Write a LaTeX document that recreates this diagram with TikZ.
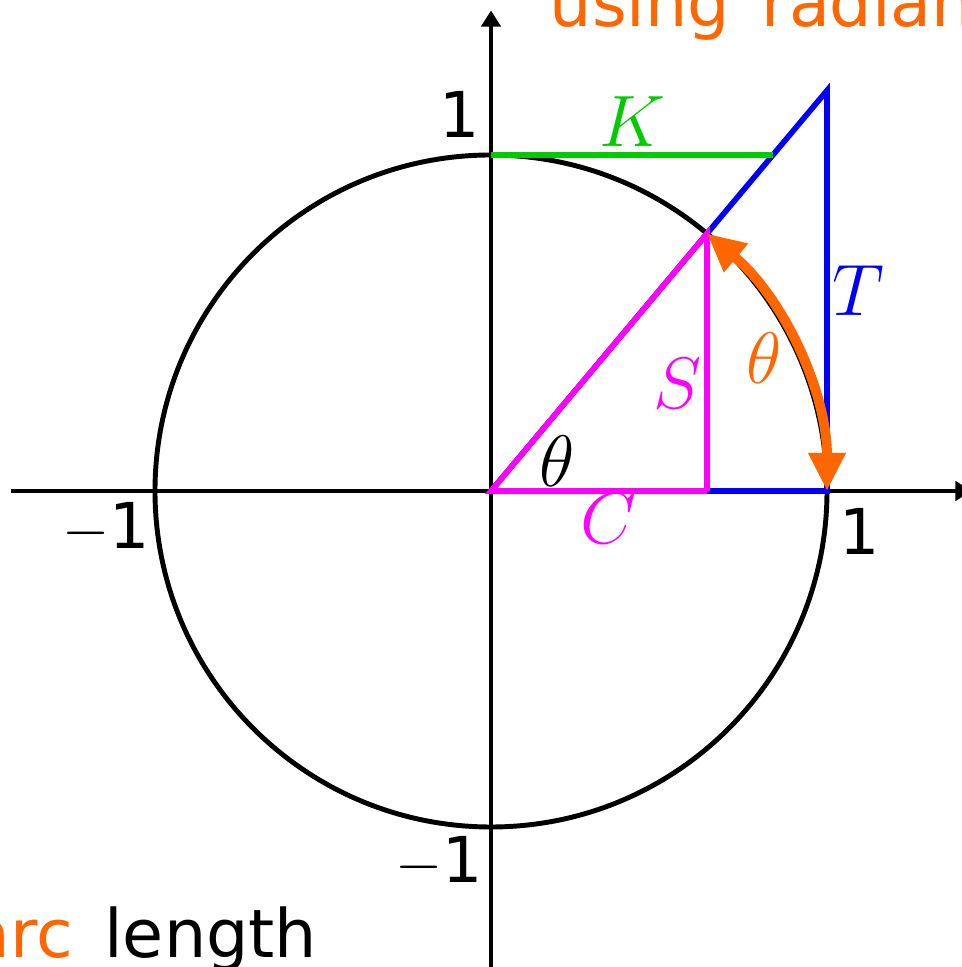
\documentclass[tikz,border=0pt]{standalone}
\usepackage{fontspec}
\newfontfamily\vera{DejaVu Sans}
\usetikzlibrary{arrows.meta}
\definecolor{arcorange}{RGB}{255,102,0}
\definecolor{cotgreen}{RGB}{0,204,0}
\definecolor{sinmagenta}{RGB}{255,0,255}
\newcommand{\wsp}{\hspace{0.47em}}

\begin{document}
\begin{tikzpicture}[x=3.36cm,y=3.36cm,
		axis/.style={
			draw,
			line width=1.4pt,
			-{Triangle[length=1.6mm,width=1.9mm]}
		},
		circ/.style={draw, line width=1.4pt},
		seg/.style={draw, line width=1.6pt},
		arcarrow/.style={
			draw=arcorange,
			line width=2.8pt,
			{Triangle[length=3.8mm,width=3.5mm]}-{Triangle[length=3.8mm,width=3.5mm]}
		},
		lbl/.style={inner sep=0pt, font=\fontsize{20}{24}\selectfont},
		num/.style={inner sep=0pt, font=\vera\fontsize{18}{22}\selectfont},
		caption/.style={inner sep=0pt, font=\vera\fontsize{19}{23}\selectfont}
		]
		
		\useasboundingbox (-1.4613,-1.4167) rectangle (1.3988,1.4613);
		
		% Points of the figure
		\coordinate (O) at (0,0);
		\coordinate (P) at (50:1);
		\coordinate (Cx) at ({cos(50)},0);
		\coordinate (A) at (1,0);
		\coordinate (Tq) at (1,{tan(50)});
		\coordinate (B) at (0,1);
		\coordinate (Kq) at ({cot(50)},1);
		\coordinate (Xl) at (-1.43,0);
		\coordinate (Xr) at (1.43,0);
		\coordinate (Yb) at (0,-1.43);
		\coordinate (Yt) at (0,1.43);
		
		% Axes and unit circle
		\draw[axis] (Xl) -- (Xr);
		\draw[axis] (Yb) -- (Yt);
		\draw[circ] (O) circle[radius=1];
		
		% Tangent (blue)
		\draw[seg, blue] (O) -- (Tq) -- (A) -- (Cx);
		
		% Cotangent (green)
		\draw[seg, cotgreen] (B) -- (Kq);
		
		% Sine and cosine (magenta)
		\draw[seg, sinmagenta] (Cx) -- (O) -- (P) -- (Cx);
		
		% Arc length
		\draw[arcarrow] (A) arc[start angle=0, end angle=50, radius=1];
		
		% Tick labels
		\node[num] (oneY) at (-0.092,1.122) {1};
		\node[num] (mOneY) at (-0.155,-1.104) {$-$1};
		\node[num] (mOneX) at (-1.146,-0.110) {$-$1};
		\node[num] (oneX) at (1.098,-0.119) {1};
		
		% Segment labels
		\node[lbl, text=cotgreen] (labK) at (0.420,1.098) {$K$};
		\node[lbl, text=blue] (labT) at (1.092,0.595) {$T$};
		\node[lbl, text=arcorange] (labArc) at (0.8125,0.396) {$\theta$};
		\node[lbl, text=sinmagenta] (labS) at (0.554,0.321) {$S$};
		\node[lbl] (labTh) at (0.196,0.089) {$\theta$};
		\node[lbl, text=sinmagenta] (labC) at (0.351,-0.083) {$C$};
		
		% Cropped captions
		\node[caption, anchor=base west, text=arcorange] (radTxt) at (0.173,1.381) {using\wsp radian};
		\node[caption, anchor=base east] (arcTxt) at (-0.515,-1.387) {\textcolor{arcorange}{arc}\wsp length};
		
	\end{tikzpicture}
\end{document}
